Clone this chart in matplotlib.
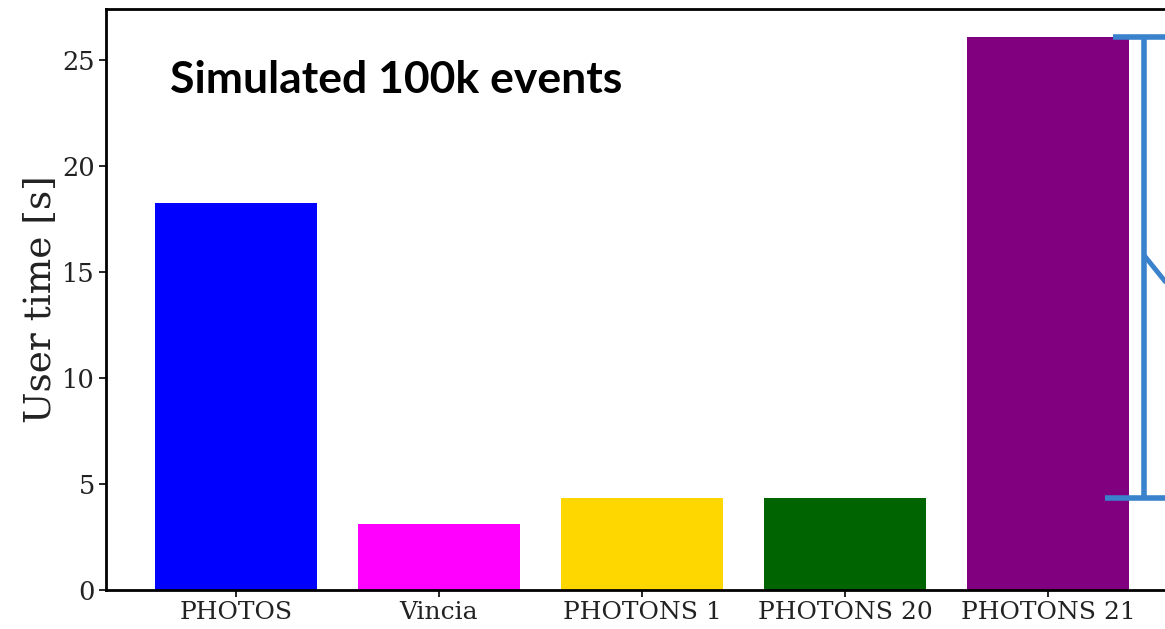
import matplotlib
matplotlib.use("Agg")
import matplotlib.pyplot as plt

categories = ["PHOTOS", "Vincia", "PHOTONS 1", "PHOTONS 20", "PHOTONS 21"]
user_time = [18.24, 3.12, 4.35, 4.35, 26.09]
colors = ["#0000ff", "#ff00ff", "#ffd700", "#006400", "#800080"]
y_ticks = [0, 5, 10, 15, 20, 25]

W, H = 1165, 629
fig = plt.figure(figsize=(W / 100, H / 100), dpi=100)
ax = fig.add_axes([106 / W, 1 - 590 / H, (1178 - 106) / W, (590 - 9) / H])

x = list(range(len(categories)))
ax.bar(x, user_time, width=0.8, color=colors)
ax.set_xticks(x)
ax.set_xticklabels(categories, family="DejaVu Serif", fontsize=18, color="#222222")
ax.set_yticks(y_ticks)
ax.set_yticklabels([str(t) for t in y_ticks], family="DejaVu Serif", fontsize=18.5, color="#222222")
ax.set_ylabel("User time [s]", family="DejaVu Serif", fontsize=27, color="#222222", labelpad=2)
for s in ax.spines.values():
    s.set_linewidth(2)
ax.tick_params(axis="both", length=5, width=1.2, pad=3)

fig.text(170 / W, 1 - 80 / H, "Simulated 100k events", family="Lato", fontweight="bold",
         fontsize=32, va="center", ha="left", color="black")

ax.autoscale(False)

# bracket annotation between PHOTONS 20 and PHOTONS 21 values
bc = "#3a82cc"
top = user_time[4]
bot = user_time[3]
xv = 4.473
ax.plot([xv, xv], [bot, top], color=bc, lw=4, clip_on=False, solid_capstyle="butt")
ax.plot([4.32, 4.7], [top, top], color=bc, lw=4, clip_on=False, solid_capstyle="butt")
ax.plot([4.28, 4.7], [bot, bot], color=bc, lw=4, clip_on=False, solid_capstyle="butt")
ax.plot([xv, 4.6], [15.78, 14.27], color=bc, lw=3.5, clip_on=False, solid_capstyle="butt")

fig.savefig("out.png", dpi=100)
